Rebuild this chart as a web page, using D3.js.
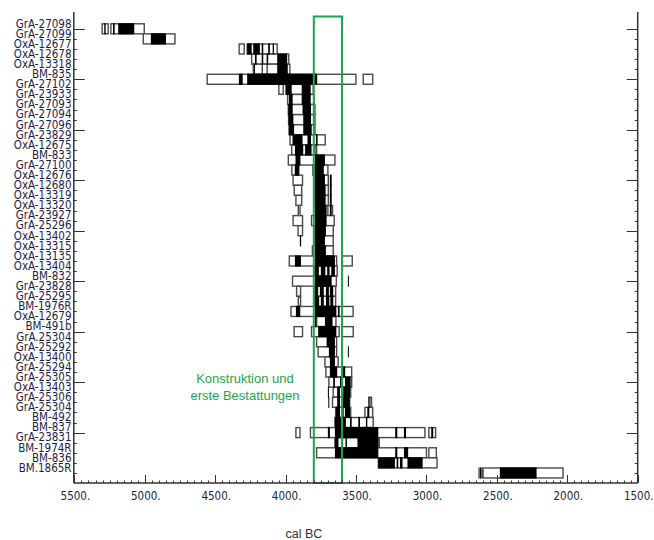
<!DOCTYPE html>
<html><head><meta charset="utf-8">
<script src="https://cdn.jsdelivr.net/npm/d3@7"></script>
<style>html,body{margin:0;padding:0;background:#fff;}svg{display:block;}
.lab{font-family:'DejaVu Sans Condensed','DejaVu Sans',sans-serif;font-stretch:condensed;}</style>
</head><body>
<script>
const labels = ["GrA-27098","GrA-27099","OxA-12677","OxA-12678","OxA-13318","BM-835","GrA-27102","GrA-23933","GrA-27093","GrA-27094","GrA-27096","GrA-23829","OxA-12675","BM-833","GrA-27100","OxA-12676","OxA-12680","OxA-13319","OxA-13320","GrA-23927","GrA-25296","OxA-13402","OxA-13315","OxA-13135","OxA-13404","BM-832","GrA-23828","GrA-25295","BM-1976R","OxA-12679","BM-491b","GrA.25304","GrA-25292","OxA-13400","GrA-25294","GrA-25305","OxA-13403","GrA-25306","GrA-25304","BM-492","BM-837","GrA-23831","BM-1974R","BM-836","BM.1865R"];

// outlined (white) ranges per row, cal BC [from, to]
const outlineRanges = [
 [[5303,5260],[5241,5004]],
 [[5011,4786]],
 [[4330,4294],[4273,4060]],
 [[4241,3978]],
 [[4230,3970]],
 [[4557,3501],[3449,3382]],
 [[4048,4017],[3998,3804]],
 [[3986,3799]],
 [[3981,3792]],
 [[3979,3792]],
 [[3976,3792]],
 [[3969,3719]],
 [[3957,3780]],
 [[3981,3650]],
 [[3956,3906],[3792,3700]],
 [[3947,3880],[3792,3697]],
 [[3939,3886],[3792,3697]],
 [[3927,3886],[3792,3697]],
 [[3910,3898],[3700,3667]],
 [[3947,3880],[3816,3655]],
 [[3912,3880],[3792,3662]],
 [[3792,3662]],
 [[3810,3662]],
 [[3974,3638],[3602,3527]],
 [[3792,3634]],
 [[3951,3640]],
 [[3922,3894],[3792,3645]],
 [[3910,3894],[3792,3645]],
 [[3962,3521]],
 [[3780,3643]],
 [[3940,3880],[3816,3620],[3602,3520]],
 [[3780,3638]],
 [[3769,3638]],
 [[3721,3627]],
 [[3714,3531]],
 [[3693,3531]],
 [[3662,3538]],
 [[3667,3545],[3410,3390]],
 [[3645,3538],[3437,3382]],
 [[3650,3378]],
 [[3927,3898],[3824,3011],[2983,2935]],
 [[3650,3335]],
 [[3780,3000],[2983,2930]],
 [[3342,2925]],
 [[2598,2030]]
];

// black (filled) ranges per row, cal BC [from, to]
const blackRanges = [
 [[5288,5278],[5226,5214],[5189,5075]],
 [[4957,4850]],
 [[4273,4241],[4230,4183],[4170,4159],[4124,4112],[4092,4083]],
 [[4218,4206],[4170,4159],[4135,4124],[4060,3989]],
 [[4225,4218],[4170,4163],[4135,4128],[4060,3985]],
 [[4332,4305],[4273,3776]],
 [[3998,3957],[3886,3822]],
 [[3977,3950],[3886,3822]],
 [[3981,3950],[3880,3820]],
 [[3979,3945],[3875,3820]],
 [[3976,3940],[3875,3815]],
 [[3951,3880],[3845,3820],[3785,3773]],
 [[3934,3875],[3862,3816],[3795,3788]],
 [[3930,3895],[3792,3721]],
 [[3935,3906],[3810,3805],[3792,3729]],
 [[3792,3721],[3686,3673]],
 [[3792,3716],[3686,3673]],
 [[3792,3716],[3686,3673]],
 [[3792,3709],[3686,3673]],
 [[3792,3709]],
 [[3792,3714]],
 [[3899,3890],[3792,3721]],
 [[3792,3714]],
 [[3934,3891],[3792,3650]],
 [[3792,3764],[3750,3718],[3705,3688],[3676,3650]],
 [[3792,3673],[3558,3552]],
 [[3792,3769],[3757,3729],[3714,3693],[3686,3662]],
 [[3792,3762],[3750,3729],[3714,3690],[3683,3662]],
 [[3927,3896],[3792,3640],[3629,3617]],
 [[3792,3782],[3721,3667]],
 [[3769,3640]],
 [[3709,3650]],
 [[3693,3650],[3558,3552]],
 [[3686,3650]],
 [[3686,3634],[3600,3577]],
 [[3662,3650],[3614,3595],[3578,3538]],
 [[3700,3694],[3634,3614],[3591,3543]],
 [[3697,3692],[3634,3614],[3595,3545],[3405,3398]],
 [[3643,3614],[3600,3588],[3579,3543],[3420,3406]],
 [[3650,3572],[3543,3531],[3484,3472],[3430,3420]],
 [[3700,3686],[3650,3342],[3222,3207],[3160,3145],[2966,2952]],
 [[3650,3625],[3600,3592],[3575,3565],[3490,3340]],
 [[3650,3342],[3222,3207],[3160,3130]],
 [[3342,3224],[3212,3200],[3188,3170],[3135,3027]],
 [[2630,2626],[2620,2616],[2610,2606],[2479,2218]]
];

const xTicks = [5500,5000,4500,4000,3500,3000,2500,2000,1500];
const xDomain = [5500,1500];
const phase = [3800,3600];
const phaseText = ["Konstruktion und","erste Bestattungen"];
const axisTitle = "cal BC";

(function(){
const W = 654, H = 540;
const pL = 73.8, pR = 637.7, pT = 12, pB = 483;
const navy = "#1d1d48", axisCol = "#333";

const svg = d3.select("body").append("svg").attr("width", W).attr("height", H);

const x = d3.scaleLinear().domain(xDomain).range([74.4, 637.7]);
const y = d3.scaleBand().domain(labels).range([23.75, 23.75 + labels.length * 10.095]).padding(0);
const bh = 10;
const cy = l => y(l) + y.bandwidth() / 2;

// bars
const rows = svg.append("g");
labels.forEach((lab, i) => {
  const c = cy(lab);
  rows.selectAll(null).data(outlineRanges[i]).enter().append("rect")
    .attr("x", d => x(d[0])).attr("width", d => x(d[1]) - x(d[0]))
    .attr("y", c - bh / 2).attr("height", bh)
    .attr("fill", "#fff").attr("stroke", "#4a4a4a").attr("stroke-width", 1.4);
});
labels.forEach((lab, i) => {
  const c = cy(lab);
  rows.selectAll(null).data(blackRanges[i]).enter().append("rect")
    .attr("x", d => x(d[0])).attr("width", d => Math.max(1, x(d[1]) - x(d[0])))
    .attr("y", c - bh / 2 - 0.6).attr("height", bh + 1.2)
    .attr("fill", "#000");
});

// green phase box
svg.append("rect")
  .attr("x", x(phase[0])).attr("width", x(phase[1]) - x(phase[0]))
  .attr("y", 16.5).attr("height", pB - 16.5)
  .attr("fill", "none").attr("stroke", "#1aa64f").attr("stroke-width", 2);

svg.selectAll(null).data(phaseText).enter().append("text")
  .attr("x", 245).attr("y", (d, i) => 383 + i * 17)
  .attr("text-anchor", "middle")
  .style("font-family", "'Liberation Sans', Arial, sans-serif").style("font-size", "13px")
  .attr("fill", "#1aa64f").text(d => d);

// axes
const ax = svg.append("g").attr("stroke", axisCol).attr("stroke-width", 1.5).attr("fill", "none");
ax.append("line").attr("x1", pL).attr("x2", pL).attr("y1", pT).attr("y2", pB);
ax.append("line").attr("x1", pR).attr("x2", pR).attr("y1", pT).attr("y2", pB);
ax.append("line").attr("x1", pL).attr("x2", pR).attr("y1", pB).attr("y2", pB);

// y ticks (both sides, inward)
const tk = svg.append("g").attr("stroke", axisCol).attr("stroke-width", 1);
labels.forEach((lab, i) => {
  const c = Math.round(cy(lab)) + 0.5;
  const len = (i % 5 === 0) ? 11 : 3;
  tk.append("line").attr("x1", pL).attr("x2", pL + len).attr("y1", c).attr("y2", c);
  tk.append("line").attr("x1", pR).attr("x2", pR - len).attr("y1", c).attr("y2", c);
});

// x ticks
const minor = d3.range(xDomain[0], xDomain[1] - 1, -50);
minor.forEach(v => {
  const major = v % 500 === 0;
  const xx = Math.round(x(v)) + 0.5;
  tk.append("line").attr("x1", xx).attr("x2", xx).attr("y1", pB).attr("y2", pB - (major ? 8 : 2.5));
});

svg.selectAll(null).data(xTicks).enter().append("text")
  .attr("class", "lab")
  .attr("x", d => x(d) + 1).attr("y", 500)
  .attr("text-anchor", "middle")
  .style("font-size", "11.5px")
  .attr("fill", navy).text(d => d + ".");

// y labels
svg.selectAll(null).data(labels).enter().append("text")
  .attr("class", "lab")
  .attr("x", 71.5).attr("y", d => cy(d) - 1.2)
  .attr("text-anchor", "end")
  .style("font-size", "11.5px")
  .attr("fill", navy).text(d => d);

svg.append("text").attr("x", 304).attr("y", 538).attr("text-anchor", "middle")
  .style("font-family", "'Liberation Sans', Arial, sans-serif").style("font-size", "12.5px")
  .attr("fill", "#333").text(axisTitle);
})();
</script>
</body></html>
